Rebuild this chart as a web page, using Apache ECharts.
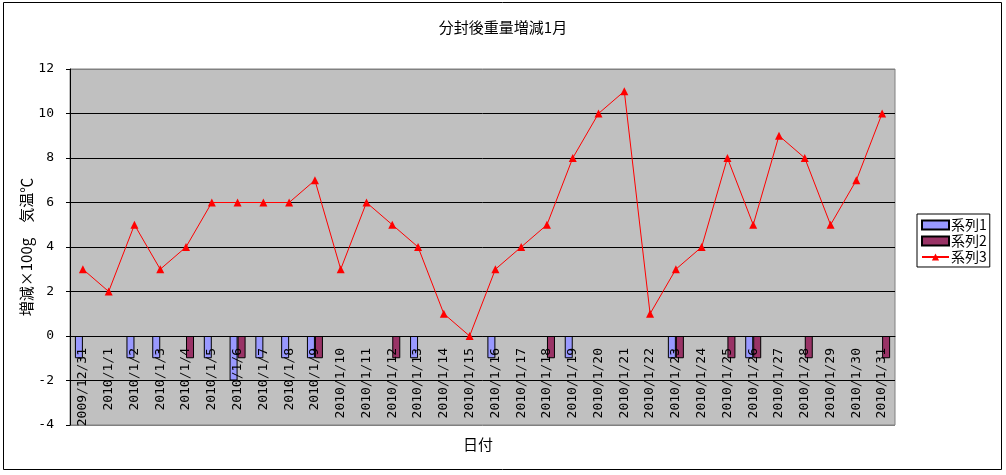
<!DOCTYPE html>
<html>
<head>
<meta charset="utf-8">
<script src="https://cdn.jsdelivr.net/npm/echarts@6/dist/echarts.min.js"></script>
<style>
  html, body { margin: 0; padding: 0; background: #fff; }
  #chart { width: 1006px; height: 475px; }
</style>
</head>
<body>
<div id="chart"></div>
<script>
// 日付
const dates = [
  '2009/12/31', '2010/1/1', '2010/1/2', '2010/1/3', '2010/1/4', '2010/1/5',
  '2010/1/6', '2010/1/7', '2010/1/8', '2010/1/9', '2010/1/10', '2010/1/11',
  '2010/1/12', '2010/1/13', '2010/1/14', '2010/1/15', '2010/1/16', '2010/1/17',
  '2010/1/18', '2010/1/19', '2010/1/20', '2010/1/21', '2010/1/22', '2010/1/23',
  '2010/1/24', '2010/1/25', '2010/1/26', '2010/1/27', '2010/1/28', '2010/1/29',
  '2010/1/30', '2010/1/31'
]
// 系列1 (増減)
const series1 = [
  -1, '-', -1, -1, '-', -1, -2, -1, -1, -1, '-', '-',
  '-', -1, '-', '-', -1, '-', '-', -1, '-', '-', '-', -1,
  '-', '-', -1, '-', '-', '-', '-', '-'
]
// 系列2 (増減)
const series2 = [
  '-', '-', '-', '-', -1, '-', -1, '-', '-', -1, '-', '-',
  -1, '-', '-', '-', '-', '-', -1, '-', '-', '-', '-', -1,
  '-', -1, -1, '-', -1, '-', '-', -1
]
// 系列3 (気温)
const series3 = [
  3, 2, 5, 3, 4, 6, 6, 6, 6, 7, 3, 6,
  5, 4, 1, 0, 3, 4, 5, 8, 10, 11, 1, 3,
  4, 8, 5, 9, 8, 5, 7, 10
]

const font = "'Noto Sans CJK JP', sans-serif"
const numFont = "'DejaVu Sans Mono', monospace"
const chart = echarts.init(document.getElementById('chart'))

const option = {
  backgroundColor: '#fff',
  animation: false,
  textStyle: { fontFamily: font },
  title: {
    text: '分封後重量増減1月',
    left: 'center',
    top: 15,
    textStyle: { fontSize: 15, fontWeight: 'normal', color: '#000', fontFamily: font }
  },
  graphic: [
    {
      type: 'rect',
      shape: { x: 3.5, y: 2.5, width: 998, height: 467 },
      style: { fill: 'none', stroke: '#000', lineWidth: 1 },
      z: -1
    },
    {
      type: 'text',
      left: 463,
      top: 437,
      style: { text: '日付', fontSize: 15, fill: '#000', fontFamily: font }
    },
    {
      // 縦軸タイトル
      type: 'text',
      x: 26,
      y: 247,
      rotation: Math.PI / 2,
      style: {
        text: '増減×100g　気温℃',
        fontSize: 15,
        fill: '#000',
        fontFamily: font,
        align: 'center',
        verticalAlign: 'middle'
      }
    }
  ],
  legend: {
    orient: 'vertical',
    left: 917,
    top: 214,
    padding: [4, 3, 3, 4],
    itemGap: 2,
    itemWidth: 27,
    itemHeight: 9,
    borderColor: '#000',
    borderWidth: 1,
    backgroundColor: '#fff',
    textStyle: { fontSize: 14, color: '#000', fontFamily: font, padding: [0, 0, 0, -3] },
    data: [
      { name: '系列1', icon: 'rect' },
      { name: '系列2', icon: 'rect' },
      { name: '系列3' }
    ]
  },
  grid: {
    left: 70,
    right: 111,
    top: 69,
    bottom: 50,
    outerBoundsMode: 'none',
    show: true,
    backgroundColor: '#C0C0C0',
    borderColor: '#808080',
    borderWidth: 1
  },
  xAxis: {
    type: 'category',
    data: dates,
    boundaryGap: true,
    // 0の位置に軸を置く (grid下端から2目盛り分上)
    offset: -89,
    axisLine: { onZero: false, lineStyle: { color: '#000', width: 1 } },
    axisTick: { inside: true, length: 5, lineStyle: { color: '#000' } },
    axisLabel: {
      rotate: 90,
      margin: 12,
      interval: 0,
      fontSize: 13,
      color: '#000',
      fontFamily: numFont
    },
    splitLine: { show: false },
    z: 5
  },
  yAxis: {
    type: 'value',
    min: -4,
    max: 12,
    interval: 2,
    axisLine: { show: true, lineStyle: { color: '#000' } },
    axisTick: { show: true, length: 4, lineStyle: { color: '#000' } },
    axisLabel: { fontSize: 13, color: '#000', margin: 16, fontFamily: numFont },
    splitLine: {
      show: true,
      lineStyle: {
        color: ['#808080', '#000', '#000', '#000', '#000', '#000', '#000', '#000', '#808080'],
        width: 1
      }
    }
  },
  series: [
    {
      name: '系列1',
      type: 'bar',
      data: series1,
      barWidth: 8,
      barGap: '0%',
      itemStyle: { color: '#9999FF', borderColor: '#000', borderWidth: 1 },
      z: 2
    },
    {
      name: '系列2',
      type: 'bar',
      data: series2,
      barWidth: 8,
      barGap: '0%',
      itemStyle: { color: '#993366', borderColor: '#000', borderWidth: 1 },
      z: 2
    },
    {
      name: '系列3',
      type: 'line',
      data: series3,
      symbol: 'triangle',
      symbolSize: 8,
      showAllSymbol: true,
      lineStyle: { color: '#FF0000', width: 1 },
      itemStyle: { color: '#FF0000', borderWidth: 0 },
      z: 6
    }
  ]
}

chart.setOption(option)
</script>
</body>
</html>
